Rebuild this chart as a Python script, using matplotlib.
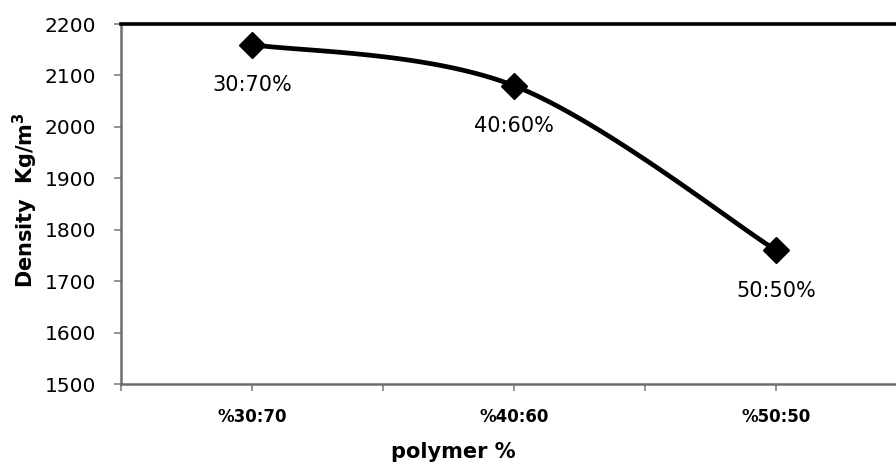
import numpy as np
import matplotlib
matplotlib.use("Agg")
import matplotlib.pyplot as plt

# Data
categories = ["%30:70", "%40:60", "%50:50"]
point_labels = ["30:70%", "40:60%", "50:50%"]
density = [2160, 2080, 1760]

plt.rcParams["font.family"] = ["DejaVu Sans"]

W, H, DPI = 896, 467, 100
fig = plt.figure(figsize=(W / DPI, H / DPI), dpi=DPI)
ax = fig.add_axes([121 / W, 1 - 384 / H, (907 - 121) / W, (384 - 24) / H])

x = np.arange(1, len(density) + 1, dtype=float)
y = np.array(density, dtype=float)


def smooth_curve(xs, ys, n=60):
    """Catmull-Rom style Bezier smoothing through every point."""
    px = np.concatenate([[xs[0]], xs, [xs[-1]]])
    py = np.concatenate([[ys[0]], ys, [ys[-1]]])
    out_x, out_y = [], []
    t = np.linspace(0, 1, n)
    for i in range(1, len(px) - 2):
        p0 = np.array([px[i], py[i]])
        p3 = np.array([px[i + 1], py[i + 1]])
        c1 = p0 + (np.array([px[i + 1], py[i + 1]]) - np.array([px[i - 1], py[i - 1]])) / 6
        c2 = p3 - (np.array([px[i + 2], py[i + 2]]) - np.array([px[i], py[i]])) / 6
        b = ((1 - t) ** 3)[:, None] * p0 + (3 * (1 - t) ** 2 * t)[:, None] * c1 \
            + (3 * (1 - t) * t ** 2)[:, None] * c2 + (t ** 3)[:, None] * p3
        out_x.extend(b[:, 0])
        out_y.extend(b[:, 1])
    return np.array(out_x), np.array(out_y)


sx, sy = smooth_curve(x, y)
ax.plot(sx, sy, color="black", lw=3.4, solid_capstyle="round", zorder=3)
ax.plot(x, y, linestyle="none", marker="D", markersize=13, color="black", zorder=4)

for xi, yi, lab in zip(x, y, point_labels):
    ax.annotate(lab, (xi, yi), xytext=(0, -29), textcoords="offset points",
                ha="center", va="center", fontsize=15)

ax.set_xlim(0.5, 3.5)
ax.set_ylim(1500, 2200)
ax.set_yticks(np.arange(1500, 2201, 100))
ax.set_xticks(x)
ax.set_xticklabels(categories, fontsize=12, fontweight="bold")
ax.set_xticks(np.arange(0.5, 3.6, 1.0), minor=True)
ax.tick_params(axis="y", labelsize=14.5, length=5, width=1.2, color="#808080",
               pad=13, direction="out")
ax.tick_params(axis="x", which="both", length=5, width=1.2, color="#808080",
               pad=12, direction="out")
ax.tick_params(axis="x", which="minor", labelbottom=False)

for side in ("left", "bottom"):
    ax.spines[side].set_color("#6e6e6e")
    ax.spines[side].set_linewidth(1.8)
ax.spines["top"].set_color("black")
ax.spines["top"].set_linewidth(2.6)
ax.spines["right"].set_visible(False)

fig.text(453 / W, 1 - 452 / H, "polymer %", ha="center", va="center",
         fontsize=15, fontweight="bold")
fig.text(25 / W, 1 - 200 / H, r"Density  Kg/m$^{\mathbf{3}}$", ha="center", va="center",
         rotation=90, fontsize=15, fontweight="bold")

fig.savefig("out.png", dpi=DPI)
